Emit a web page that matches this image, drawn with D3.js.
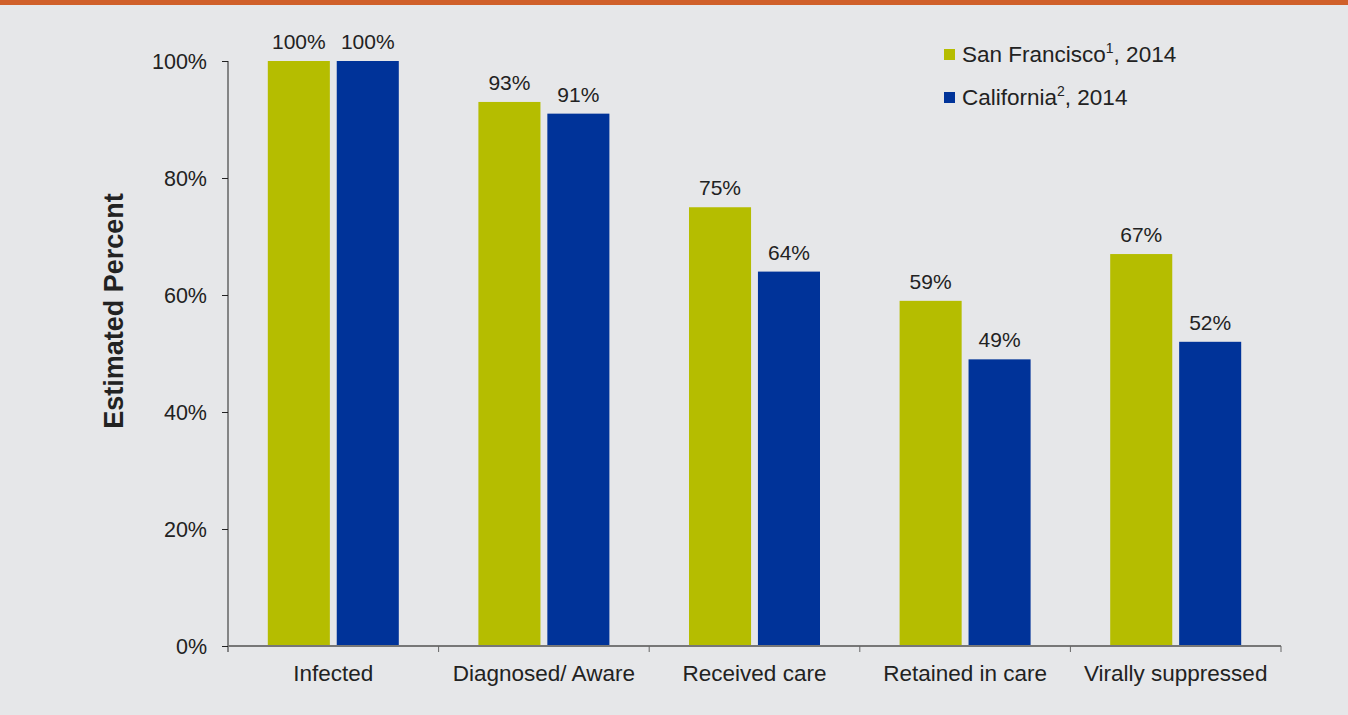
<!DOCTYPE html>
<html><head><meta charset="utf-8">
<script src="https://cdn.jsdelivr.net/npm/d3@7"></script>
<style>html,body{margin:0;padding:0;background:#e6e7e9;}svg{display:block;font-family:"Liberation Sans",Arial,sans-serif;}</style>
</head><body>
<script>
const categories = ["Infected","Diagnosed/ Aware","Received care","Retained in care","Virally suppressed"];
const seriesNames = ["San Francisco","California"];
const seriesSup = ["1","2"];
const sanFrancisco = [100,93,75,59,67];
const california = [100,91,64,49,52];
const yTicks = [0,20,40,60,80,100];
const colors = ["#b5bd00","#003399"];

const W=1348,H=715;
const svg=d3.select("body").append("svg").attr("width",W).attr("height",H);
svg.append("rect").attr("width",W).attr("height",H).attr("fill","#e6e7e9");
svg.append("rect").attr("width",W).attr("height",5).attr("fill","#d0602a");

const pL=228,pR=1281,pT=61,pB=646;
const x0=d3.scaleBand().domain(categories).range([pL,pR]).paddingInner(0.378).paddingOuter(0.189);
const x1=d3.scaleBand().domain(seriesNames).range([0,x0.bandwidth()]).paddingInner(0.1);
const y=d3.scaleLinear().domain([0,100]).range([pB,pT]);

// y axis
const yAxis=svg.append("g").attr("transform",`translate(${pL},0)`)
  .call(d3.axisLeft(y).tickValues(yTicks).tickFormat(d=>d+"%").tickSize(6).tickPadding(15));
yAxis.attr("font-family",null).attr("font-size",null);
yAxis.select(".domain").attr("d",`M0,${pT}V${pB+6}`).attr("stroke","#222");
yAxis.selectAll(".tick line").attr("stroke","#222");
yAxis.selectAll("text").attr("font-size",21.5).attr("fill","#222").attr("dy","0.36em");

// bars
const data=categories.map((c,i)=>({cat:c,vals:[sanFrancisco[i],california[i]]}));
const g=svg.append("g");
data.forEach(d=>{
  d.vals.forEach((v,j)=>{
    const xx=x0(d.cat)+x1(seriesNames[j]);
    g.append("rect").attr("x",xx).attr("y",y(v)).attr("width",x1.bandwidth()).attr("height",y(0)-y(v)).attr("fill",colors[j]);
    g.append("text").attr("x",xx+x1.bandwidth()/2).attr("y",y(v)-12).attr("text-anchor","middle")
      .attr("font-size",21).attr("fill","#222").text(v+"%");
  });
});

// x axis
const xg=svg.append("g").attr("transform",`translate(0,${pB})`);
xg.append("line").attr("x1",pL).attr("x2",pR).attr("stroke","#777").attr("stroke-width",2);
const bounds=d3.range(categories.length+1).map(i=>pL+i*x0.step());
xg.selectAll("line.tk").data(bounds.slice(1)).enter().append("line").attr("class","tk")
  .attr("x1",d=>d).attr("x2",d=>d).attr("y1",0).attr("y2",6).attr("stroke","#666");
xg.selectAll("text").data(categories).enter().append("text")
  .attr("x",d=>x0(d)+x0.bandwidth()/2).attr("y",35).attr("text-anchor","middle")
  .attr("font-size",22.5).attr("fill","#222").text(d=>d);

// y title
svg.append("text").attr("transform","translate(123,311) rotate(-90)").attr("text-anchor","middle")
  .attr("font-size",27).attr("font-weight","bold").attr("fill","#222").text("Estimated Percent");

// legend
const lg=svg.append("g");
seriesNames.forEach((s,j)=>{
  const yy=62+j*43;
  lg.append("rect").attr("x",944).attr("y",yy-13).attr("width",11).attr("height",11).attr("fill",colors[j]);
  const t=lg.append("text").attr("x",962).attr("y",yy).attr("font-size",22.5).attr("fill","#222");
  t.append("tspan").text(s);
  t.append("tspan").attr("dy",-9).attr("font-size",14).text(seriesSup[j]);
  t.append("tspan").attr("dy",9).text(", 2014");
});
</script>
</body></html>
